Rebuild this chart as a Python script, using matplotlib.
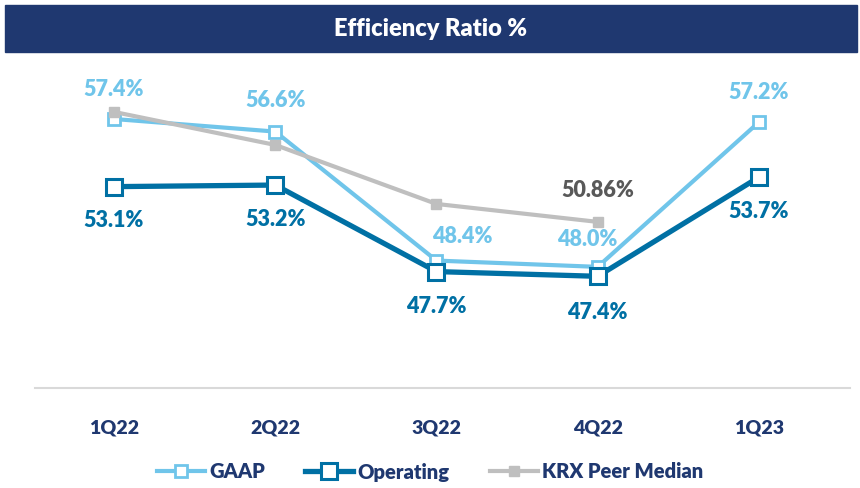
import matplotlib.pyplot as plt
from matplotlib.patches import Rectangle

quarters = ["1Q22", "2Q22", "3Q22", "4Q22", "1Q23"]
gaap = [57.4, 56.6, 48.4, 48.0, 57.2]
operating = [53.1, 53.2, 47.7, 47.4, 53.7]
peer = [57.85, 55.75, 52.0, 50.86]
peer_labels = {3: "50.86%"}

navy = "#1f3870"
light = "#70c5ea"
dark = "#0070a4"
grey = "#bfbfbf"

plt.rcParams['font.family'] = ['Lato', 'DejaVu Sans']

fig = plt.figure(figsize=(8.6, 4.88), dpi=100)
W, H = 860, 488

# title bar
fig.patches.append(Rectangle((5 / W, 1 - 52 / H), 852 / W, 47 / H,
                             transform=fig.transFigure, color=navy, zorder=0))
fig.text(0.5, 1 - 29 / H, "Efficiency Ratio %", color="white", fontsize=17,
         fontweight="heavy", ha="center", va="center")

ax = fig.add_axes([35 / W, 1 - 388 / H, 815 / W, 328 / H])
x = list(range(len(quarters)))

ax.plot(x, gaap, color=light, lw=3, marker="s", ms=9, mfc="white",
        mec=light, mew=2, label="GAAP", zorder=3)
ax.plot(x[:len(peer)], peer, color=grey, lw=3, marker="s", ms=7,
        mfc=grey, mec=grey, label="KRX Peer Median", zorder=4)
ax.plot(x, operating, color=dark, lw=3.8, marker="s", ms=12, mfc="white",
        mec=dark, mew=2.2, label="Operating", zorder=5)

gaap_off = [(0, 29), (0, 31), (26, 24), (-10, 27), (0, 30)]
op_off = [(0, -34), (0, -34), (0, -35), (0, -36), (0, -34)]
lbl = dict(ha="center", va="center", fontsize=15.5, fontweight="heavy")
for i, v in enumerate(gaap):
    ax.annotate(f"{v:.1f}%", (i, v), xytext=gaap_off[i], textcoords="offset pixels",
                color=light, **lbl)
for i, v in enumerate(operating):
    ax.annotate(f"{v:.1f}%", (i, v), xytext=op_off[i], textcoords="offset pixels",
                color=dark, **lbl)
for i, txt in peer_labels.items():
    ax.annotate(txt, (i, peer[i]), xytext=(0, 31), textcoords="offset pixels",
                color="#595959", **lbl)

ax.set_xlim(-0.49, 4.565)
ax.set_ylim(40.3, 61.15)
ax.set_yticks([])
for s in ["top", "left", "right"]:
    ax.spines[s].set_visible(False)
ax.spines["bottom"].set_color("#d9d9d9")
ax.spines["bottom"].set_linewidth(1.5)
ax.set_xticks(x)
ax.set_xticklabels(quarters, fontsize=14, fontweight="heavy", color=navy)
ax.tick_params(axis="x", length=0, pad=23)

handles, labels = ax.get_legend_handles_labels()
order = [0, 2, 1]
leg = fig.legend([handles[i] for i in order], [labels[i] for i in order],
                 loc="center", bbox_to_anchor=(0.5, 1 - 472 / H), ncol=3,
                 frameon=False, fontsize=14.5, handlelength=2.4, columnspacing=2.0,
                 handletextpad=0.2)
for t in leg.get_texts():
    t.set_color(navy)
    t.set_fontweight("heavy")

fig.savefig("out.png", dpi=100)
